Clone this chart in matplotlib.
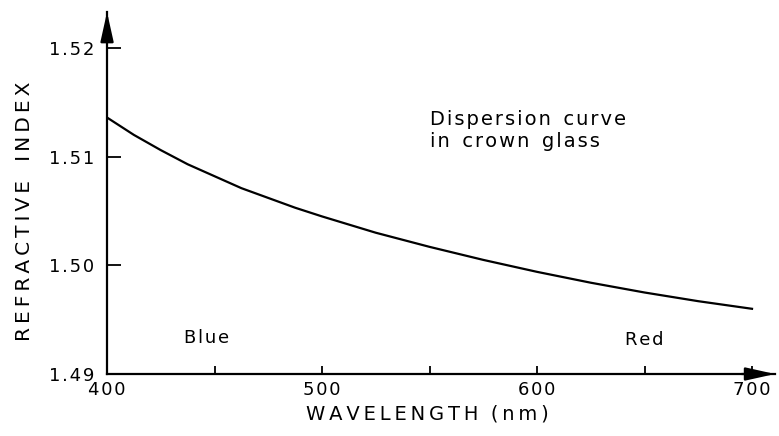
import matplotlib
matplotlib.use("Agg")
import matplotlib.pyplot as plt
from matplotlib.ticker import MultipleLocator

# wavelength (nm) and refractive index
wavelength = [400, 412.5, 425, 437.5, 450, 462.5, 475, 487.5, 500, 525,
              550, 575, 600, 625, 650, 675, 700]
n_index = [1.5136, 1.5120, 1.5106, 1.5093, 1.5082, 1.5071, 1.5062, 1.5053,
           1.5045, 1.5030, 1.5017, 1.5005, 1.4994, 1.4984, 1.4975, 1.4967,
           1.4960]

x_ticks = [400, 500, 600, 700]
y_ticks = [1.49, 1.50, 1.51, 1.52]
y_tick_labels = ["1.49", "1.50", "1.51", "1.52"]

plt.rcParams['font.family'] = ['DejaVu Sans']

HS = '\u200a'  # hair space, to widen the lettering a little


def spaced(s, sp=HS):
    return sp.join(s)


fig = plt.figure(figsize=(7.79, 4.36), dpi=100)
ax = fig.add_axes([0.1374, 0.1422, 0.8575, 0.830])

ax.plot(wavelength, n_index, color='black', lw=1.6)

ax.set_xlim(400, 710.7)
ax.set_ylim(1.49, 1.5233)

for s in ['top', 'right']:
    ax.spines[s].set_visible(False)
for s in ['left', 'bottom']:
    ax.spines[s].set_linewidth(1.6)

ax.set_xticks(x_ticks)
ax.set_xticklabels([spaced(str(v)) for v in x_ticks])
ax.xaxis.set_minor_locator(MultipleLocator(50))
ax.set_yticks(y_ticks)
ax.set_yticklabels([spaced(t) for t in y_tick_labels])

ax.tick_params(axis='x', which='both', direction='in', length=6, width=1.3,
               labelsize=13, pad=5)
ax.tick_params(axis='y', which='major', direction='in', length=10, width=1.3,
               labelsize=13, pad=9)

# arrow heads on the axes
arrow = dict(arrowstyle='-|>,head_length=0.9,head_width=0.2', color='black',
             lw=1.6, shrinkA=0, shrinkB=0, mutation_scale=20)
ax.annotate('', xy=(1.0, 0), xytext=(0.95, 0), xycoords='axes fraction',
            arrowprops=arrow, annotation_clip=False)
ax.annotate('', xy=(0, 1.0), xytext=(0, 0.92), xycoords='axes fraction',
            arrowprops=arrow, annotation_clip=False)

ax.set_xlabel('  '.join(spaced(w, '\u2009') for w in ['WAVELENGTH', '(nm)']),
              fontsize=14)
ax.xaxis.set_label_coords(0.479, -0.085)
ax.set_ylabel('   '.join(spaced(w, '\u2009') for w in ['REFRACTIVE', 'INDEX']),
              fontsize=14.5)
ax.yaxis.set_label_coords(-0.11, 0.45)

ax.text(446.5, 1.4933, spaced('Blue'), fontsize=13, ha='center', va='center')
ax.text(650, 1.4931, spaced('Red'), fontsize=13, ha='center', va='center')
ax.text(550, 1.5143,
        spaced('Dispersion') + '  ' + spaced('curve') + '\n'
        + spaced('in') + '  ' + spaced('crown') + '  ' + spaced('glass'),
        fontsize=14, ha='left', va='top', linespacing=1.2)

fig.savefig('out.png', dpi=100)
